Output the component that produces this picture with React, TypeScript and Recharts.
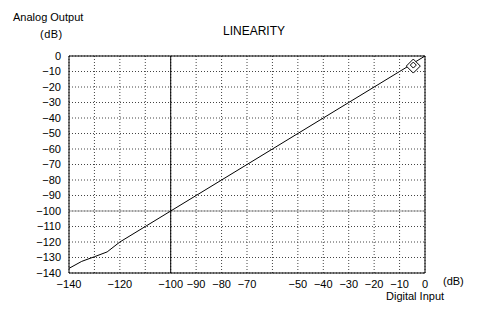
import React from 'react';
import {
  ComposedChart,
  Line,
  Scatter,
  XAxis,
  YAxis,
  CartesianGrid,
  ReferenceLine,
} from 'recharts';

// Digital input level (dB) and measured analog output (dB)
const inputLevels = [-140, -135, -130, -125, -120, -110, -100, -90, -80, -70, -60, -50, -40, -30, -20, -10, 0];
const outputLevels = [-137, -132.5, -129.5, -126.4, -120, -110, -100, -90, -80, -70, -60, -50, -40, -30, -20, -10, 0];

// grid every 10 dB, but a few x labels are left out in the original
const gridTicks = [-140, -130, -120, -110, -100, -90, -80, -70, -60, -50, -40, -30, -20, -10, 0];
const hiddenXLabels = [-130, -110, -60];

// the small diamond marker near the top end
const markerPoint = [{ x: -4.6, y: -6.5 }];

const lineData = inputLevels.map((x, i) => ({ x, y: outputLevels[i] }));

const fmt = (v: number) => (v < 0 ? '\u2212' + Math.abs(v) : String(v));

const font = '"Liberation Sans", Arial, sans-serif';

const Diamond = (props: any) => {
  const { cx, cy } = props;
  const r = 7;
  return (
    <g stroke="#000" fill="#fff" strokeWidth={1}>
      <polygon points={`${cx},${cy - r} ${cx + r},${cy} ${cx},${cy + r} ${cx - r},${cy}`} />
      <path d={`M${cx - 3},${cy - 1} L${cx},${cy - 4} L${cx + 3},${cy - 1} L${cx},${cy + 2} Z`} fill="none" />
    </g>
  );
};

export default function App() {
  return (
    <div style={{ position: 'absolute', left: 0, top: 0, width: 480, height: 318, background: '#fff', fontFamily: font }}>
      <div style={{ position: 'absolute', left: 13, top: 11, fontSize: 11 }}>Analog Output</div>
      <div style={{ position: 'absolute', left: 40, top: 28, fontSize: 11, letterSpacing: 0.5 }}>(dB)</div>
      <div style={{ position: 'absolute', left: 223, top: 24, fontSize: 12 }}>LINEARITY</div>
      <div style={{ position: 'absolute', left: 443, top: 275, fontSize: 11 }}>(dB)</div>
      <div style={{ position: 'absolute', left: 386, top: 290, fontSize: 11 }}>Digital Input</div>
      <ComposedChart
        width={480}
        height={318}
        data={lineData}
        margin={{ top: 56, right: 55, left: 0, bottom: 0 }}
      >
        <CartesianGrid stroke="#444" strokeDasharray="1 2" />
        <XAxis
          dataKey="x"
          type="number"
          domain={[-140, 0]}
          ticks={gridTicks}
          interval={0}
          tickFormatter={(v: number) => (hiddenXLabels.includes(v) ? '' : fmt(v))}
          tickLine={false}
          axisLine={{ stroke: '#000' }}
          tickMargin={1}
          height={45}
          tick={{ fill: '#000', fontSize: 11, fontFamily: font }}
        />
        <YAxis
          type="number"
          domain={[-140, 0]}
          ticks={gridTicks}
          interval={0}
          tickFormatter={fmt}
          tickLine={false}
          axisLine={{ stroke: '#000' }}
          tickMargin={2}
          width={69}
          tick={{ fill: '#000', fontSize: 11, fontFamily: font }}
        />
        <ReferenceLine y={-100} stroke="#999" />
        <ReferenceLine x={-100} stroke="#000" />
        <ReferenceLine y={0} stroke="#000" />
        <ReferenceLine x={0} stroke="#000" />
        <Line
          dataKey="y"
          type="linear"
          stroke="#000"
          strokeWidth={1}
          dot={false}
          isAnimationActive={false}
        />
        <Scatter data={markerPoint} dataKey="y" shape={Diamond} isAnimationActive={false} />
      </ComposedChart>
    </div>
  );
}
